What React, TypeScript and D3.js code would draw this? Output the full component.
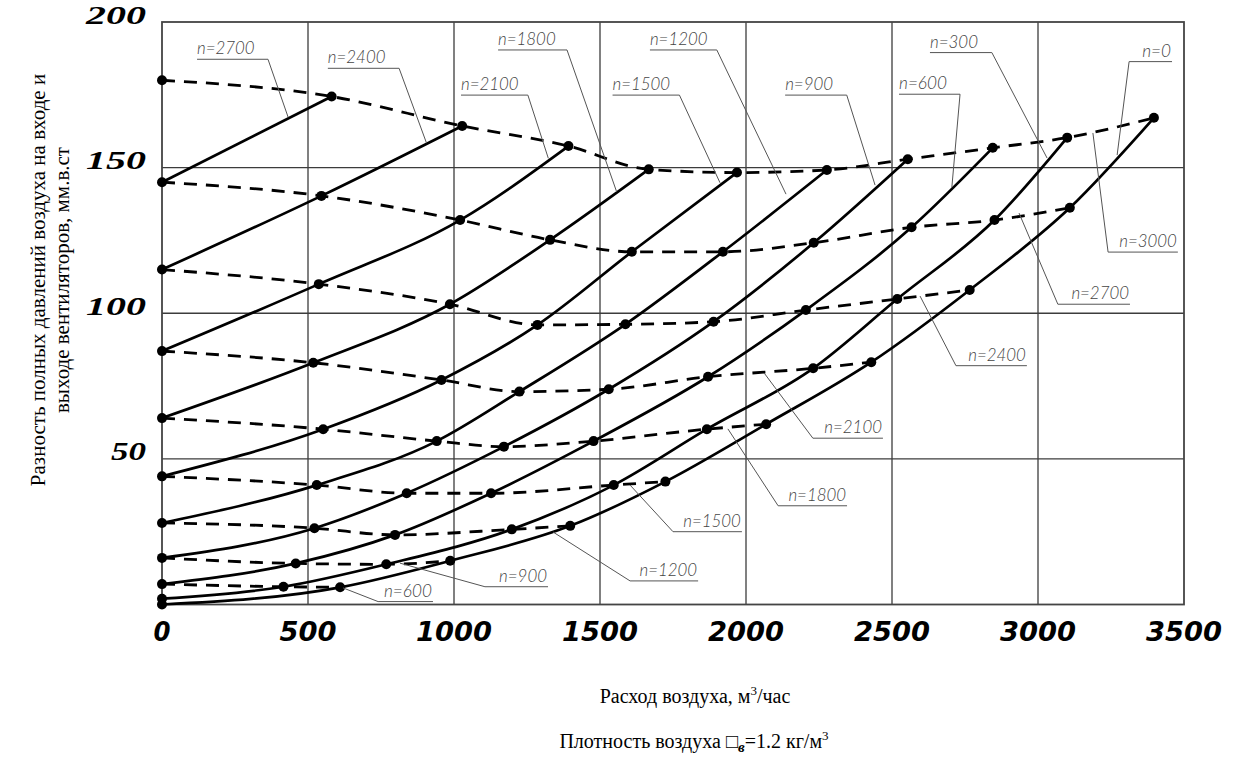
import React from 'react';
import * as d3 from 'd3';

// ---- data (air flow m3/h, pressure difference mm w.c.) ----
const flowTicks = [0, 500, 1000, 1500, 2000, 2500, 3000, 3500];
const pressureTicks = [50, 100, 150, 200];
const speeds = [3000, 2700, 2400, 2100, 1800, 1500, 1200, 900, 600, 300, 0];

type Pt = [number, number] | null;
// solid characteristic of each speed n; point k lies on the dashed curve of speed n + 300*k (null = no crossing drawn)
const line3000: Pt[] = [[0, 180]];
const line2700: Pt[] = [[0, 145], [581, 174.4]];
const line2400: Pt[] = [[0, 115], [546, 140.3], [1028, 164.3]];
const line2100: Pt[] = [[0, 87], [537, 110], [1021, 132], [1392, 157.4]];
const line1800: Pt[] = [[0, 64], [518, 83], [986, 103.1], [1329, 125.2], [1667, 149.4]];
const line1500: Pt[] = [[0, 44], [552, 60.2], [957, 77.1], [1286, 96], [1609, 121.1], [1969, 148.3]];
const line1200: Pt[] = [[0, 28], [530, 41], [941, 56.1], [1224, 73.1], [1587, 96.2], [1921, 121.1], [2277, 149.2]];
const line900: Pt[] = [[0, 16], [522, 26.2], [838, 38.2], [1171, 54.2], [1530, 73.9], [1889, 97.1], [2232, 124.2], [2554, 152.9]];
const line600: Pt[] = [[0, 7], [458, 14.1], [798, 23.9], [1127, 38.2], [1478, 56.1], [1870, 78.2], [2205, 101.1], [2567, 129.5], [2845, 156.8]];
const line300: Pt[] = [[0, 2], [416, 6.1], [768, 13.8], [1198, 25.8], [1547, 41], [1866, 60.2], [2230, 81.1], [2518, 104.9], [2851, 132], [3100, 160.3]];
const line0: Pt[] = [[0, 0], null, [610, 5.9], [987, 15], [1398, 27], [1724, 42.2], [2069, 61.9], [2429, 83.2], [2766, 108], [3109, 136.2], [3397, 167.1]];

const solidLines: Record<number, Pt[]> = {
  3000: line3000, 2700: line2700, 2400: line2400, 2100: line2100, 1800: line1800,
  1500: line1500, 1200: line1200, 900: line900, 600: line600, 300: line300, 0: line0,
};

// annotation callouts (data units): underline from x1 to x2 at y, leader to (ex, ey)
type Callout = { text: string; x1: number; x2: number; y: number; ex: number; ey: number; from: 'left' | 'right'; anchor: 'start' | 'end' };
const callouts: Callout[] = [
  { text: 'n=2700', x1: 120, x2: 363, y: 187.2, ex: 432, ey: 167.3, from: 'right', anchor: 'start' },
  { text: 'n=2400', x1: 568, x2: 812, y: 184.1, ex: 906, ey: 158.4, from: 'right', anchor: 'start' },
  { text: 'n=2100', x1: 1024, x2: 1253, y: 174.9, ex: 1323, ey: 153.2, from: 'right', anchor: 'start' },
  { text: 'n=1800', x1: 1151, x2: 1387, y: 190.4, ex: 1557, ey: 141.7, from: 'right', anchor: 'start' },
  { text: 'n=1500', x1: 1543, x2: 1772, y: 174.9, ex: 1911, ey: 144.8, from: 'right', anchor: 'start' },
  { text: 'n=1200', x1: 1671, x2: 1900, y: 190.4, ex: 2137, ey: 140.9, from: 'right', anchor: 'start' },
  { text: 'n=900', x1: 2134, x2: 2345, y: 174.9, ex: 2442, ey: 144.0, from: 'right', anchor: 'start' },
  { text: 'n=600', x1: 2524, x2: 2733, y: 175.2, ex: 2705, ey: 143.3, from: 'right', anchor: 'start' },
  { text: 'n=300', x1: 2630, x2: 2842, y: 189.5, ex: 3031, ey: 153.3, from: 'right', anchor: 'start' },
  { text: 'n=0', x1: 3312, x2: 3459, y: 186.4, ex: 3271, ey: 154.3, from: 'left', anchor: 'end' },
  { text: 'n=3000', x1: 3240, x2: 3479, y: 121.0, ex: 3188, ey: 161.9, from: 'left', anchor: 'end' },
  { text: 'n=2700', x1: 3068, x2: 3315, y: 103.1, ex: 2935, ey: 134.4, from: 'left', anchor: 'end' },
  { text: 'n=2400', x1: 2719, x2: 2962, y: 82.0, ex: 2596, ey: 105.9, from: 'left', anchor: 'end' },
  { text: 'n=2100', x1: 2229, x2: 2469, y: 57.1, ex: 2062, ey: 79.5, from: 'left', anchor: 'end' },
  { text: 'n=1800', x1: 2110, x2: 2346, y: 33.9, ex: 1938, ey: 60.3, from: 'left', anchor: 'end' },
  { text: 'n=1500', x1: 1750, x2: 1986, y: 25.0, ex: 1603, ey: 41.0, from: 'left', anchor: 'end' },
  { text: 'n=1200', x1: 1603, x2: 1836, y: 8.1, ex: 1339, ey: 24.9, from: 'left', anchor: 'end' },
  { text: 'n=900', x1: 1106, x2: 1322, y: 6.1, ex: 815, ey: 14.2, from: 'left', anchor: 'end' },
  { text: 'n=600', x1: 740, x2: 928, y: 1.0, ex: 620, ey: 5.7, from: 'left', anchor: 'end' },
];

const W = 1245;
const H = 773;

export default function App() {
  const x = d3.scaleLinear().domain([0, 3500]).range([162, 1184]);
  const y = d3.scaleLinear().domain([0, 200]).range([604.5, 22]);

  const line = d3.line<[number, number]>().x(d => x(d[0])).y(d => y(d[1])).curve(d3.curveMonotoneX);

  // dashed curves: for speed s, collect point (s-j)/300 of each solid line j <= s
  const dashed = speeds.filter(s => s >= 600).map(s => {
    const pts: [number, number][] = [];
    speeds.filter(j => j <= s).forEach(j => {
      const p = solidLines[j][(s - j) / 300];
      if (p) pts.push(p);
    });
    pts.sort((a, b) => a[0] - b[0]);
    return { speed: s, pts };
  });

  const clean = (arr: Pt[]) => arr.filter((p): p is [number, number] => p !== null);
  const solids = speeds.filter(s => s < 3000).map(s => ({ speed: s, pts: clean(solidLines[s]) }));
  const allDots: [number, number][] = speeds.flatMap(s => clean(solidLines[s]));

  const labelFont = '"Liberation Sans Narrow", Lato, "DejaVu Sans Condensed", sans-serif';
  const serif = '"Liberation Serif", "Times New Roman", serif';

  return (
    <svg width={W} height={H} style={{ position: 'absolute', left: 0, top: 0, background: '#fff' }}>
      <rect x={0} y={0} width={W} height={H} fill="#fff" />
      {/* grid */}
      <g stroke="#3c3c3c" strokeWidth={1.3}>
        {flowTicks.slice(1, -1).map(t => (
          <line key={'vx' + t} x1={x(t)} x2={x(t)} y1={y(200)} y2={y(0)} />
        ))}
        {pressureTicks.slice(0, -1).map(t => (
          <line key={'hy' + t} x1={x(0)} x2={x(3500)} y1={y(t)} y2={y(t)} />
        ))}
      </g>
      <rect x={x(0)} y={y(200)} width={x(3500) - x(0)} height={y(0) - y(200)} fill="none" stroke="#444" strokeWidth={1.8} />

      {/* dashed curves */}
      <g fill="none" stroke="#000" strokeWidth={2.8} strokeDasharray="13,9">
        {dashed.map(d => (
          <path key={'d' + d.speed} d={line(d.pts) || ''} />
        ))}
      </g>
      {/* solid curves */}
      <g fill="none" stroke="#000" strokeWidth={2.7}>
        {solids.map(d => (
          <path key={'s' + d.speed} d={line(d.pts) || ''} />
        ))}
      </g>
      {/* dots */}
      <g fill="#000">
        {allDots.map((p, i) => (
          <circle key={'p' + i} cx={x(p[0])} cy={y(p[1])} r={5} />
        ))}
      </g>

      {/* callouts */}
      <g>
        {callouts.map((c, i) => {
          const px1 = x(c.x1), px2 = x(c.x2), py = y(c.y);
          const sx = c.from === 'left' ? px1 : px2;
          const len = c.text.length * 9.6;
          return (
            <g key={'c' + i}>
              <line x1={px1} x2={px2} y1={py} y2={py} stroke="#555" strokeWidth={1} />
              <line x1={sx} y1={py} x2={x(c.ex)} y2={y(c.ey)} stroke="#555" strokeWidth={1} />
              <text
                x={c.anchor === 'start' ? px1 : px2 - 1}
                y={py - 5}
                textAnchor={c.anchor}
                fontFamily={labelFont}
                fontStyle="italic"
                fontWeight={300}
                fontSize={17}
                fill="#444"
                textLength={len}
                lengthAdjust="spacingAndGlyphs"
              >
                {c.text}
              </text>
            </g>
          );
        })}
      </g>

      {/* y tick labels */}
      {pressureTicks.map(t => (
        <text
          key={'yl' + t}
          x={146}
          y={y(t) + 1.5}
          textAnchor="end"
          fontFamily={serif}
          fontWeight="bold"
          fontStyle="italic"
          fontSize={25}
          fill="#000"
          textLength={t >= 100 ? 60 : 35}
          lengthAdjust="spacingAndGlyphs"
        >
          {t}
        </text>
      ))}

      {/* x tick labels */}
      {flowTicks.map(t => {
        const s = String(t);
        return (
          <text
            key={'xl' + t}
            x={x(t)}
            y={641}
            textAnchor="middle"
            fontFamily='"DejaVu Sans Condensed", "DejaVu Sans", sans-serif'
            fontWeight="bold"
            fontStyle="italic"
            fontSize={27}
            fill="#000"
            textLength={s.length === 1 ? 17 : s.length * 19}
            lengthAdjust="spacingAndGlyphs"
          >
            {s}
          </text>
        );
      })}

      {/* axis titles */}
      <g transform="translate(45,280) rotate(-90)">
        <text x={0} y={0} textAnchor="middle" fontFamily={serif} fontSize={21} fill="#000">
          Разность полных давлений воздуха на входе и
        </text>
        <text x={0} y={24} textAnchor="middle" fontFamily={serif} fontSize={21} fill="#000">
          выходе вентиляторов, мм.в.ст
        </text>
      </g>
      <text x={695} y={703} textAnchor="middle" fontFamily={serif} fontSize={20} fill="#000">
        Расход воздуха, м<tspan fontSize={13} dy={-8}>3</tspan><tspan dy={8}>/час</tspan>
      </text>
      <text x={694} y={748} textAnchor="middle" fontFamily={serif} fontSize={20} fill="#000">
        Плотность воздуха □<tspan fontSize={15} fontWeight="bold" fontStyle="italic" dy={4}>в</tspan>
        <tspan dy={-4}>=1.2 кг/м</tspan><tspan fontSize={13} dy={-8}>3</tspan>
      </text>
    </svg>
  );
}
